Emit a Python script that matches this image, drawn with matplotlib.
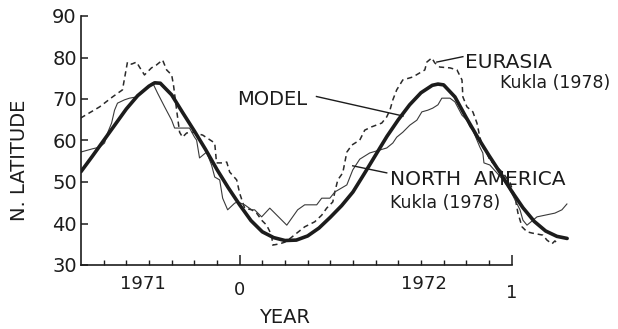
import numpy as np
import matplotlib.pyplot as plt
import matplotlib.transforms as mtransforms

# ========== Data (x in months from 1 Jan 1972, y in degrees N) ==========
model_month = [-7.0, -6.5, -6.0, -5.5, -5.0, -4.5, -4.0, -3.75, -3.5, -3.0, -2.5, -2.0,
               -1.5, -1.0, -0.5, 0.0, 0.5, 1.0, 1.5, 2.0, 2.5, 3.0, 3.5, 4.0, 4.5, 5.0,
               5.5, 6.0, 6.5, 7.0, 7.5, 8.0, 8.5, 8.75, 9.0, 9.5, 10.0, 10.5, 11.0, 11.5,
               12.0, 12.5, 13.0, 13.5, 14.0, 14.45]
model_lat = [52.5, 56.2, 60.0, 63.8, 67.6, 70.8, 73.1, 73.9, 73.8, 71.0, 66.6, 62.3,
             57.8, 53.0, 48.6, 44.5, 40.7, 38.0, 36.6, 35.9, 36.0, 37.0, 38.9, 41.5, 44.3, 47.6,
             52.0, 56.5, 61.0, 65.0, 68.6, 71.5, 73.3, 73.6, 73.4, 70.5, 65.5, 60.8, 56.4, 52.2,
             47.8, 43.8, 40.5, 38.2, 36.9, 36.4]

eurasia_month = [-7.02, -6.18, -5.61, -5.17, -4.95, -4.77, -4.55, -4.42, -4.2, -3.89, -3.67,
                 -3.4, -3.22, -3.0, -2.92, -2.78, -2.65, -2.52, -2.34, -2.08, -1.63, -1.10,
                 -1.02, -0.75, -0.57, -0.44, -0.13, 0.0, 0.22, 0.53, 0.75, 0.97, 1.19, 1.41,
                 1.46, 1.77, 1.99, 2.25, 2.87, 3.31, 3.62, 3.84, 4.11, 4.2, 4.33, 4.55, 4.73,
                 4.95, 5.3, 5.52, 5.83, 6.27, 6.49, 6.63, 6.76, 6.93, 7.2, 7.64, 7.95, 8.17,
                 8.26, 8.48, 8.61, 8.83, 9.28, 9.59, 9.81, 9.85, 10.03, 10.29, 10.47, 10.6,
                 10.73, 10.91, 11.04, 11.35, 11.62, 11.93, 12.15, 12.28, 12.46, 12.68, 12.9,
                 13.38, 13.56, 13.78, 13.91, 14.05]
eurasia_lat = [65.4, 68.1, 70.5, 72.2, 78.9, 78.4, 78.9, 77.7, 75.8, 77.5, 78.2,
               79.4, 77.0, 75.8, 73.4, 67.3, 62.0, 60.8, 61.8, 62.0, 61.3, 59.4,
               54.6, 54.6, 54.8, 52.4, 50.5, 47.3, 43.7, 43.3, 42.5, 40.8, 39.6, 37.2,
               34.8, 35.1, 35.5, 36.5, 39.2, 40.4, 42.0, 43.7, 45.2, 47.6, 50.5, 52.2, 57.2,
               58.9, 60.1, 62.5, 63.3, 64.2, 65.7, 67.3, 69.8, 72.2, 74.6, 75.3, 76.3, 77.0,
               78.9, 79.9, 78.7, 77.7, 77.5, 77.0, 74.6, 70.5, 68.1, 66.9, 64.2, 60.8,
               58.4, 57.0, 55.3, 53.6, 52.2, 49.8, 46.4, 42.5, 39.2, 38.0, 37.7,
               37.2, 36.0, 35.1, 35.8, 35.1]

namerica_month = [-7.02, -6.49, -6.18, -5.96, -5.83, -5.65, -5.52, -5.39, -5.08, -4.86, -4.55,
                  -4.33, -4.11, -3.84, -3.62, -3.31, -3.0, -2.87, -2.56, -2.21, -1.99, -1.9,
                  -1.77, -1.46, -1.24, -1.1, -0.88, -0.75, -0.53, -0.22, -0.09, 0.22, 0.53,
                  0.66, 0.97, 1.33, 1.55, 2.08, 2.56, 2.87, 3.4, 3.62, 3.98, 4.2, 4.73, 4.99,
                  5.3, 5.74, 6.49, 6.76, 6.93, 7.2, 7.51, 7.82, 8.04, 8.3, 8.52, 8.75, 8.92,
                  9.28, 9.5, 9.81, 10.03, 10.16, 10.29, 10.47, 10.6, 10.73, 10.78, 11.04,
                  11.35, 11.62, 11.93, 12.15, 12.37, 12.5, 12.68, 13.12, 13.47, 13.91, 14.22,
                  14.44]
namerica_lat = [57.2, 58.0, 58.4, 59.4, 61.8, 64.2, 67.3, 69.0, 69.8, 70.2, 70.5,
                71.7, 72.7, 73.9, 71.4, 68.1, 64.9, 63.0, 63.0, 63.0, 60.8, 60.1,
                55.8, 57.2, 54.1, 51.2, 50.5, 46.1, 43.3, 44.9, 45.2, 44.5, 43.3,
                43.3, 41.6, 43.7, 42.5, 39.6, 43.3, 44.5, 44.5, 46.1, 46.1, 47.6, 49.3, 52.9,
                55.5, 57.0, 58.2, 59.4, 60.8, 62.0, 63.7, 64.9, 66.9, 67.3, 67.8, 68.6, 70.2,
                70.2, 69.3, 66.1, 64.9, 63.3, 62.5, 60.1, 58.4, 57.0, 54.6, 54.1,
                52.2, 50.5, 48.1, 45.7, 43.3, 40.8, 39.6, 41.6, 42.0, 42.5, 43.3,
                44.7]

year_labels = ["1971", "0", "1972", "1"]
year_label_month = [-4.25, 0, 8.15, 12]
ytick_values = [30, 40, 50, 60, 70, 80, 90]

ink = "#1c1c1c"

# ========== Figure ==========
fig = plt.figure(figsize=(6.18, 3.29), dpi=100)
ax = fig.add_axes([81 / 618, 64 / 329, 498.6 / 618, 249 / 329])

ax.plot(eurasia_month, eurasia_lat, color="#2a2a2a", lw=1.1,
        linestyle=(0, (3.5, 2.5)))
ax.plot(namerica_month, namerica_lat, color="#3a3a3a", lw=0.8)
ax.plot(model_month, model_lat, color=ink, lw=2.6,
        solid_capstyle="round", solid_joinstyle="round")

ax.set_xlim(-7, 15)
ax.set_ylim(30, 90)

for s in ["top", "right"]:
    ax.spines[s].set_visible(False)
ax.spines["left"].set_bounds(30, 90)
ax.spines["bottom"].set_bounds(-7, 12)
for s in ["left", "bottom"]:
    ax.spines[s].set_linewidth(1.2)
    ax.spines[s].set_color(ink)

ax.set_yticks(ytick_values)
ax.set_yticklabels([str(v) for v in ytick_values])
ax.tick_params(axis="y", direction="in", length=5, width=1.1, pad=3,
               labelsize=14, colors=ink)

ax.set_xticks([0, 12])
ax.set_xticklabels([])
ax.set_xticks(np.arange(-6, 12), minor=True)
ax.tick_params(axis="x", which="major", direction="in", length=7, width=1.1, colors=ink)
ax.tick_params(axis="x", which="minor", direction="in", length=3.5, width=1.0, colors=ink)

# year labels below axis
trans = mtransforms.blended_transform_factory(ax.transData, ax.transAxes)
label_y = [-0.075, -0.10, -0.075, -0.112]
for lab, m, yy in zip(year_labels, year_label_month, label_y):
    ax.text(m, yy, lab, transform=trans, ha="center", va="center",
            fontsize=13, color=ink)
ax.text(2.0, -0.21, "YEAR", transform=trans, ha="center", va="center",
        fontsize=14, color=ink)

fig.text(20 / 618, 1 - 160 / 329, "N. LATITUDE", rotation=90,
         ha="center", va="center", fontsize=14, color=ink)

# annotations
ax.text(-0.1, 69.8, "MODEL", ha="left", va="center", fontsize=14, color=ink)
ax.plot([3.39, 7.21], [70.6, 65.9], color=ink, lw=1.0)

ax.text(9.95, 78.9, "EURASIA", ha="left", va="center", fontsize=14.5, color=ink)
ax.text(11.5, 73.9, "Kukla (1978)", ha="left", va="center", fontsize=12.5, color=ink)
ax.plot([9.85, 8.7], [80.2, 78.9], color=ink, lw=1.0)

ax.text(6.63, 50.5, "NORTH  AMERICA", ha="left", va="center", fontsize=14.5, color=ink)
ax.text(6.63, 44.9, "Kukla (1978)", ha="left", va="center", fontsize=12.5, color=ink)
ax.plot([4.99, 6.49], [53.9, 52.2], color=ink, lw=1.0)

fig.savefig("out.png", dpi=100)
